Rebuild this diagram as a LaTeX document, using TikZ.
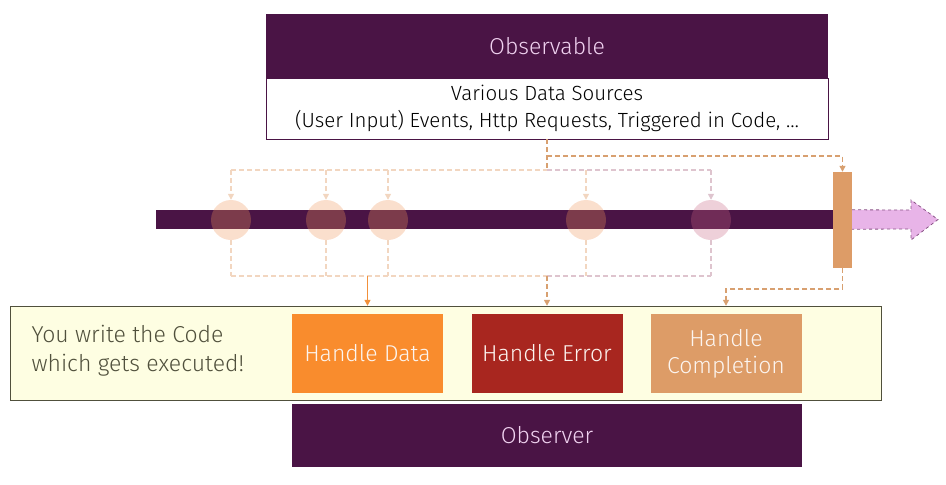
\documentclass[tikz,border=0pt]{standalone}
\usepackage{fontspec}
\setmainfont{Fira Sans}[UprightFont={* Light}]
\usepackage{tikz}
\usetikzlibrary{arrows.meta, positioning}

\definecolor{plum}{RGB}{74,20,69}
\definecolor{lilac}{RGB}{240,210,240}
\definecolor{datacol}{RGB}{249,140,45}
\definecolor{errorcol}{RGB}{168,38,31}
\definecolor{donecol}{RGB}{221,156,103}
\definecolor{cream}{RGB}{254,254,226}
\definecolor{olive}{RGB}{80,80,60}
\definecolor{feed}{RGB}{216,160,112}
\definecolor{fadefeed}{RGB}{242,214,192}
\definecolor{rosefeed}{RGB}{222,196,206}
\definecolor{peach}{RGB}{240,150,90}
\definecolor{rose}{RGB}{200,100,130}
\definecolor{pinkarrow}{RGB}{232,180,232}

\begin{document}
\begin{tikzpicture}[
        x=1pt, y=-1pt,
        every node/.style={font=\fontsize{23}{27}\selectfont},
        bar/.style={fill=plum, text=lilac, inner sep=0pt},
        handler/.style={text=white!90!donecol, inner sep=0pt, minimum width=151, minimum height=79, align=center},
        event/.style={circle, inner sep=0pt, minimum size=40, fill opacity=0.3},
        feedline/.style={draw=feed, line width=1.3pt, dash pattern=on 5pt off 3pt},
        fadeline/.style={draw=fadefeed, line width=1.3pt, dash pattern=on 5pt off 3pt},
        roseline/.style={draw=rosefeed, line width=1.3pt, dash pattern=on 5pt off 3pt},
        tip/.style={-{Triangle[length=6pt, width=6pt]}}
    ]
    \useasboundingbox (0,0) rectangle (946,485);

    % source side
    \node[bar, minimum width=562, minimum height=64] (observable) at (547,46) {Observable};
    \node[draw=plum, fill=white, minimum width=562, minimum height=61, inner sep=0pt, align=center, font=\fontsize{20.5}{27}\selectfont] (sources) at (547,108.5)
        {Various Data Sources\\(User Input) Events, Http Requests, Triggered in Code, \dots};

    % stream
    \node[bar, minimum width=694, minimum height=19] (stream) at (503,219.5) {};
    \foreach \x/\n in {231/a, 326/b, 388/c, 586/d}
        \node[event, fill=peach] (ev\n) at (\x,220) {};
    \node[event, fill=rose] (eve) at (711,220) {};
    \node[fill=donecol, minimum width=19, minimum height=96, inner sep=0pt] (complete) at (842.5,220) {};
    \draw[plum!60!pinkarrow, fill=pinkarrow, dashed, line width=0.8pt]
        (complete.east |- stream.north) -- (911,210) -- (911,200) -- (938,219.5) -- (911,240) -- (911,229)
        -- (complete.east |- stream.south);

    % observer side
    \node[draw=olive, fill=cream, minimum width=871, minimum height=94, inner sep=0pt] (code) at (445.5,353) {};
    \node[anchor=west, align=left, text=olive, font=\fontsize{23}{29}\selectfont] (you) at (28,351) {You write the Code\\which gets executed!};
    \node[handler, fill=datacol] (data) at (367.5,353.5) {Handle Data};
    \node[handler, fill=errorcol] (error) at (547,353.5) {Handle Error};
    \node[handler, fill=donecol] (done) at (726,353.5) {Handle\\Completion};
    \node[bar, minimum width=510, minimum height=63] (observer) at (547,435.5) {Observer};

    % emitting
    \coordinate (fork) at (547,170);
    \coordinate (branch) at (547,156);
    \draw[feedline] (sources.south -| fork) -- (fork);
    \draw[feedline, tip] (branch) -| (complete.north);
    \draw[fadeline] (eva |- fork) -- (fork);
    \draw[roseline] (fork) -- (eve |- fork);
    \foreach \n in {a, b, c, d}
        \draw[fadeline, tip] (ev\n |- fork) -- (ev\n.north);
    \draw[roseline, tip] (eve |- fork) -- (eve.north);

    % handling
    \coordinate (gather) at (547,276);
    \coordinate (turn) at (842.5,289);
    \foreach \n in {a, b, c, d}
        \draw[fadeline] (ev\n.south) -- (ev\n |- gather);
    \draw[roseline] (eve.south) -- (eve |- gather);
    \draw[fadeline] (eva |- gather) -- (gather);
    \draw[roseline] (gather) -- (eve |- gather);
    \draw[draw=datacol!80!feed, line width=1.3pt, tip] (data |- gather) -- (data |- code.north);
    \draw[feedline, tip] (gather) -- (error |- code.north);
    \draw[feedline, tip] (complete.south) -- (turn) -| (done |- code.north);
\end{tikzpicture}
\end{document}
